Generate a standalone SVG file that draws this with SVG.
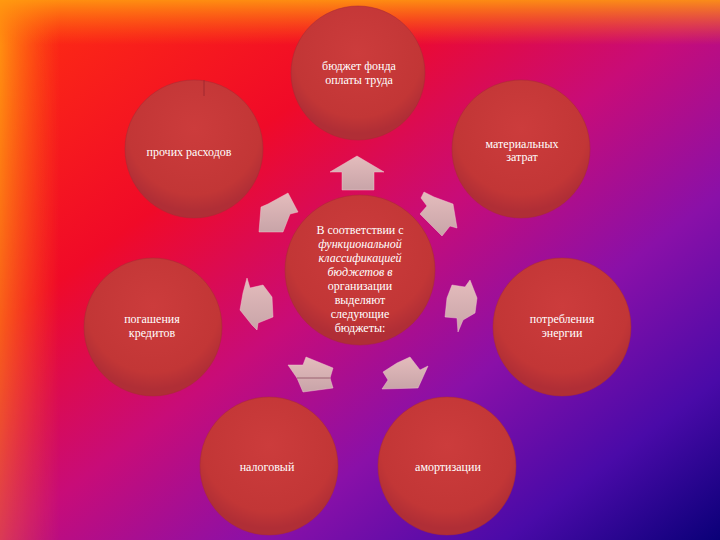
<svg xmlns="http://www.w3.org/2000/svg" width="720" height="540" viewBox="0 0 720 540">
<defs>
<linearGradient id="bg" x1="0" y1="0" x2="1" y2="1">
<stop offset="0" stop-color="#ff3010"/>
<stop offset="0.3" stop-color="#f00a28"/>
<stop offset="0.5" stop-color="#c80c78"/>
<stop offset="0.68" stop-color="#8a10a8"/>
<stop offset="0.85" stop-color="#4a0aa8"/>
<stop offset="1" stop-color="#0a0078"/>
</linearGradient>
<linearGradient id="edgeL" x1="0" y1="0" x2="1" y2="0">
<stop offset="0" stop-color="#ff9a10" stop-opacity="0.95"/>
<stop offset="1" stop-color="#ff7010" stop-opacity="0"/>
</linearGradient>
<linearGradient id="edgeT" x1="0" y1="0" x2="0" y2="1">
<stop offset="0" stop-color="#ff9a10" stop-opacity="0.9"/>
<stop offset="1" stop-color="#ff7010" stop-opacity="0"/>
</linearGradient>
<linearGradient id="fadeDown" x1="0" y1="0" x2="0" y2="1">
<stop offset="0" stop-color="#fff" stop-opacity="1"/>
<stop offset="1" stop-color="#fff" stop-opacity="0.35"/>
</linearGradient>
<mask id="mL"><rect x="0" y="0" width="60" height="540" fill="url(#fadeDown)"/></mask>
<radialGradient id="cg" cx="0.5" cy="0.35" r="0.6">
<stop offset="0" stop-color="#cc3c3c"/>
<stop offset="0.8" stop-color="#c23636"/>
<stop offset="1" stop-color="#b02e36"/>
</radialGradient>
<linearGradient id="ag" x1="0" y1="0" x2="0" y2="1">
<stop offset="0" stop-color="#e4bcbc"/>
<stop offset="1" stop-color="#c8a4a8"/>
</linearGradient>
<style>
.c{fill:url(#cg);stroke:#a82a34;stroke-width:1;stroke-opacity:0.5}
.t{font-family:"Liberation Serif","DejaVu Serif",serif;font-size:12px;fill:#ffffff;text-anchor:middle}
.i{font-style:italic}
.a{fill:url(#ag);stroke:#f0c8d0;stroke-width:0.8;stroke-opacity:0.6}
</style>
</defs>
<rect x="0" y="0" width="720" height="540" fill="url(#bg)"/>
<rect x="0" y="0" width="60" height="540" fill="url(#edgeL)" mask="url(#mL)"/>
<rect x="0" y="0" width="720" height="45" fill="url(#edgeT)"/>

<g id="connectors">
<polygon id="arrow-top" class="a" points="357,156 384,172 374,172 374,190 342,190 342,172 330,172"/>
<polygon id="arrow-ul" class="a" points="288,193 298,212 290,214 283,232 259,232 261,207 268,204"/>
<polygon id="arrow-ur" class="a" points="424,192 434,197 453,204 457,228 450,226 442,236 420,214 427,206 421,198"/>
<polygon id="arrow-r" class="a" points="452,285 465,287 470,280 477,298 475,313 463,320 458,332 457,318 445,317 447,298"/>
<polygon id="arrow-l" class="a" points="247,278 250,288 263,285 272,297 273,317 258,323 257,330 252,325 240,310 243,293"/>
<polygon id="arrow-bl" class="a" points="288,365 303,365 306,357 333,368 330,378 333,388 303,392 297,378"/>
<line x1="297" y1="378" x2="330" y2="378" stroke="#9a6070" stroke-width="1"/>
<polygon id="arrow-br" class="a" points="383,372 397,363 410,357 420,370 428,366 418,388 382,389 388,380"/>
</g>

<g id="node-top"><circle class="c" cx="358" cy="73" r="67"/>
<text class="t" x="359" y="70">бюджет фонда</text>
<text class="t" x="359" y="84">оплаты труда</text></g>

<g id="node-ul"><circle class="c" cx="194" cy="149" r="69"/>
<line x1="204" y1="80" x2="204" y2="96" stroke="#a02830" stroke-width="1"/>
<text class="t" x="189" y="156">прочих расходов</text></g>

<g id="node-ur"><circle class="c" cx="521" cy="149" r="69"/>
<text class="t" x="522" y="148">материальных</text>
<text class="t" x="522" y="161">затрат</text></g>

<g id="node-l"><circle class="c" cx="153" cy="327" r="69"/>
<text class="t" x="152" y="323">погашения</text>
<text class="t" x="152" y="337">кредитов</text></g>

<g id="node-r"><circle class="c" cx="562" cy="327" r="69"/>
<text class="t" x="562" y="323">потребления</text>
<text class="t" x="562" y="337">энергии</text></g>

<g id="node-bl"><circle class="c" cx="269" cy="466" r="69"/>
<text class="t" x="267" y="471">налоговый</text></g>

<g id="node-br"><circle class="c" cx="447" cy="466" r="69"/>
<text class="t" x="448" y="471">амортизации</text></g>

<g id="node-center"><circle class="c" cx="360" cy="270" r="75"/>
<text class="t" x="360" y="234">В соответствии с</text>
<text class="t i" x="360" y="248">функциональной</text>
<text class="t i" x="360" y="262">классификацией</text>
<text class="t i" x="360" y="276">бюджетов в</text>
<text class="t" x="360" y="290">организации</text>
<text class="t" x="360" y="304">выделяют</text>
<text class="t" x="360" y="318">следующие</text>
<text class="t" x="360" y="332">бюджеты:</text></g>
</svg>
